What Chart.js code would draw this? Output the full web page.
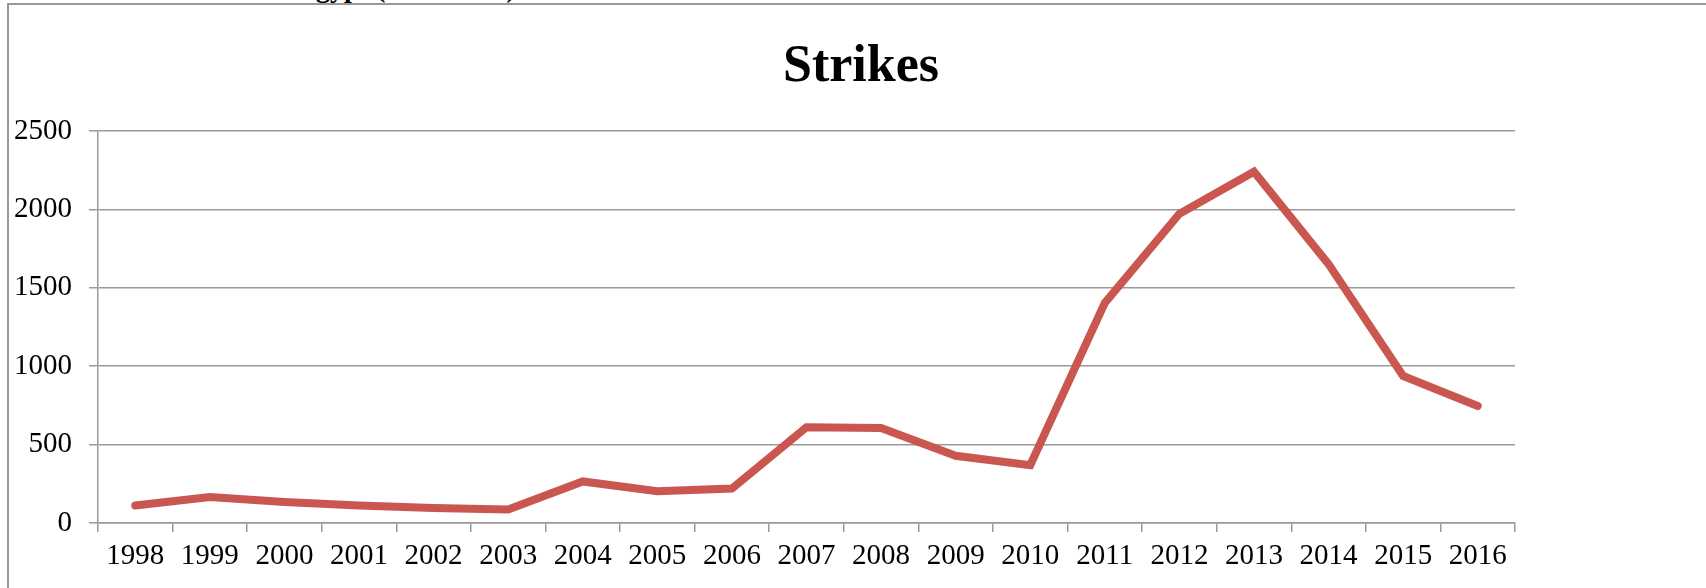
<!DOCTYPE html>
<html>
<head>
<meta charset="utf-8">
<title>Strikes</title>
<script src="https://cdn.jsdelivr.net/npm/chart.js@4/dist/chart.umd.min.js"></script>
<style>
	html, body { margin: 0; padding: 0; background: #fff; overflow: hidden; width: 1706px; height: 588px; }
	.caption {
		position: absolute; left: 176px; top: -26px;
		font: bold 28px 'Liberation Serif', serif; line-height: 28px;
		color: #000; white-space: nowrap;
	}
	.frame {
		position: absolute; left: 7px; top: 3px;
		width: 1706px; height: 610px;
		border-left: 2px solid #999; border-top: 2px solid #999;
	}
	#chart_strikes { position: absolute; left: 0; top: 0; }
</style>
</head>
<body>
<div class="caption">Strikes in Egypt (1998-2016)</div>
<div class="frame">
	<canvas id="chart_strikes" width="1704" height="600"></canvas>
</div>
<script>
var years = ['1998', '1999', '2000', '2001', '2002', '2003', '2004', '2005', '2006', '2007',
	'2008', '2009', '2010', '2011', '2012', '2013', '2014', '2015', '2016'];
var strikes = [112, 166, 134, 112, 95, 86, 265, 202, 220, 611,
	606, 429, 369, 1404, 1972, 2240, 1651, 937, 746];
var y_ticks = [0, 500, 1000, 1500, 2000, 2500];

var GRID = '#9a9a9a';
var LINE = '#C9564F';
var tickFont = { family: "'Liberation Serif', serif", size: 29 };

window.strikeChart = new Chart(document.getElementById('chart_strikes'), {
	type: 'line',
	data: {
		labels: years,
		datasets: [
			{
				label: 'Strikes',
				data: strikes,
				borderColor: LINE,
				backgroundColor: LINE,
				borderWidth: 8,
				borderCapStyle: 'round',
				borderJoinStyle: 'miter',
				pointRadius: 0,
				tension: 0,
				fill: false
			}
		]
	},
	options: {
		responsive: false,
		animation: false,
		layout: { padding: 0 },
		plugins: {
			legend: { display: false },
			tooltip: { enabled: false },
			title: {
				display: true,
				text: 'Strikes',
				color: '#000',
				font: { family: "'Liberation Serif', serif", size: 52, weight: 'bold' },
				padding: { top: 31, bottom: 32.6 }
			}
		},
		scales: {
			x: {
				offset: true,
				grid: {
					offset: true,
					drawOnChartArea: false,
					drawTicks: true,
					tickLength: 9,
					color: GRID,
					lineWidth: 1.5
				},
				border: { color: GRID, width: 1.5 },
				ticks: { color: '#000', font: tickFont, padding: 7, maxRotation: 0, autoSkip: false },
				afterFit: function(scale){ scale.height = 82; }
			},
			y: {
				min: 0,
				max: 2500,
				afterBuildTicks: function(scale){
					scale.ticks = y_ticks.map(function(v){ return { value: v }; });
				},
				grid: { color: GRID, lineWidth: 1.5, tickLength: 9, drawTicks: true },
				border: { color: GRID, width: 1.5 },
				ticks: {
					color: '#000',
					font: tickFont,
					padding: 17,
					callback: function(v){ return String(v); }
				},
				afterFit: function(scale){ scale.width = 89; }
			},
			// empty space right of the plot, keeps the title centred on the whole frame
			pad: {
				type: 'linear',
				position: 'right',
				display: true,
				grid: { display: false },
				border: { display: false },
				ticks: { display: false },
				afterFit: function(scale){ scale.width = 198; }
			}
		}
	}
});
</script>
</body>
</html>
